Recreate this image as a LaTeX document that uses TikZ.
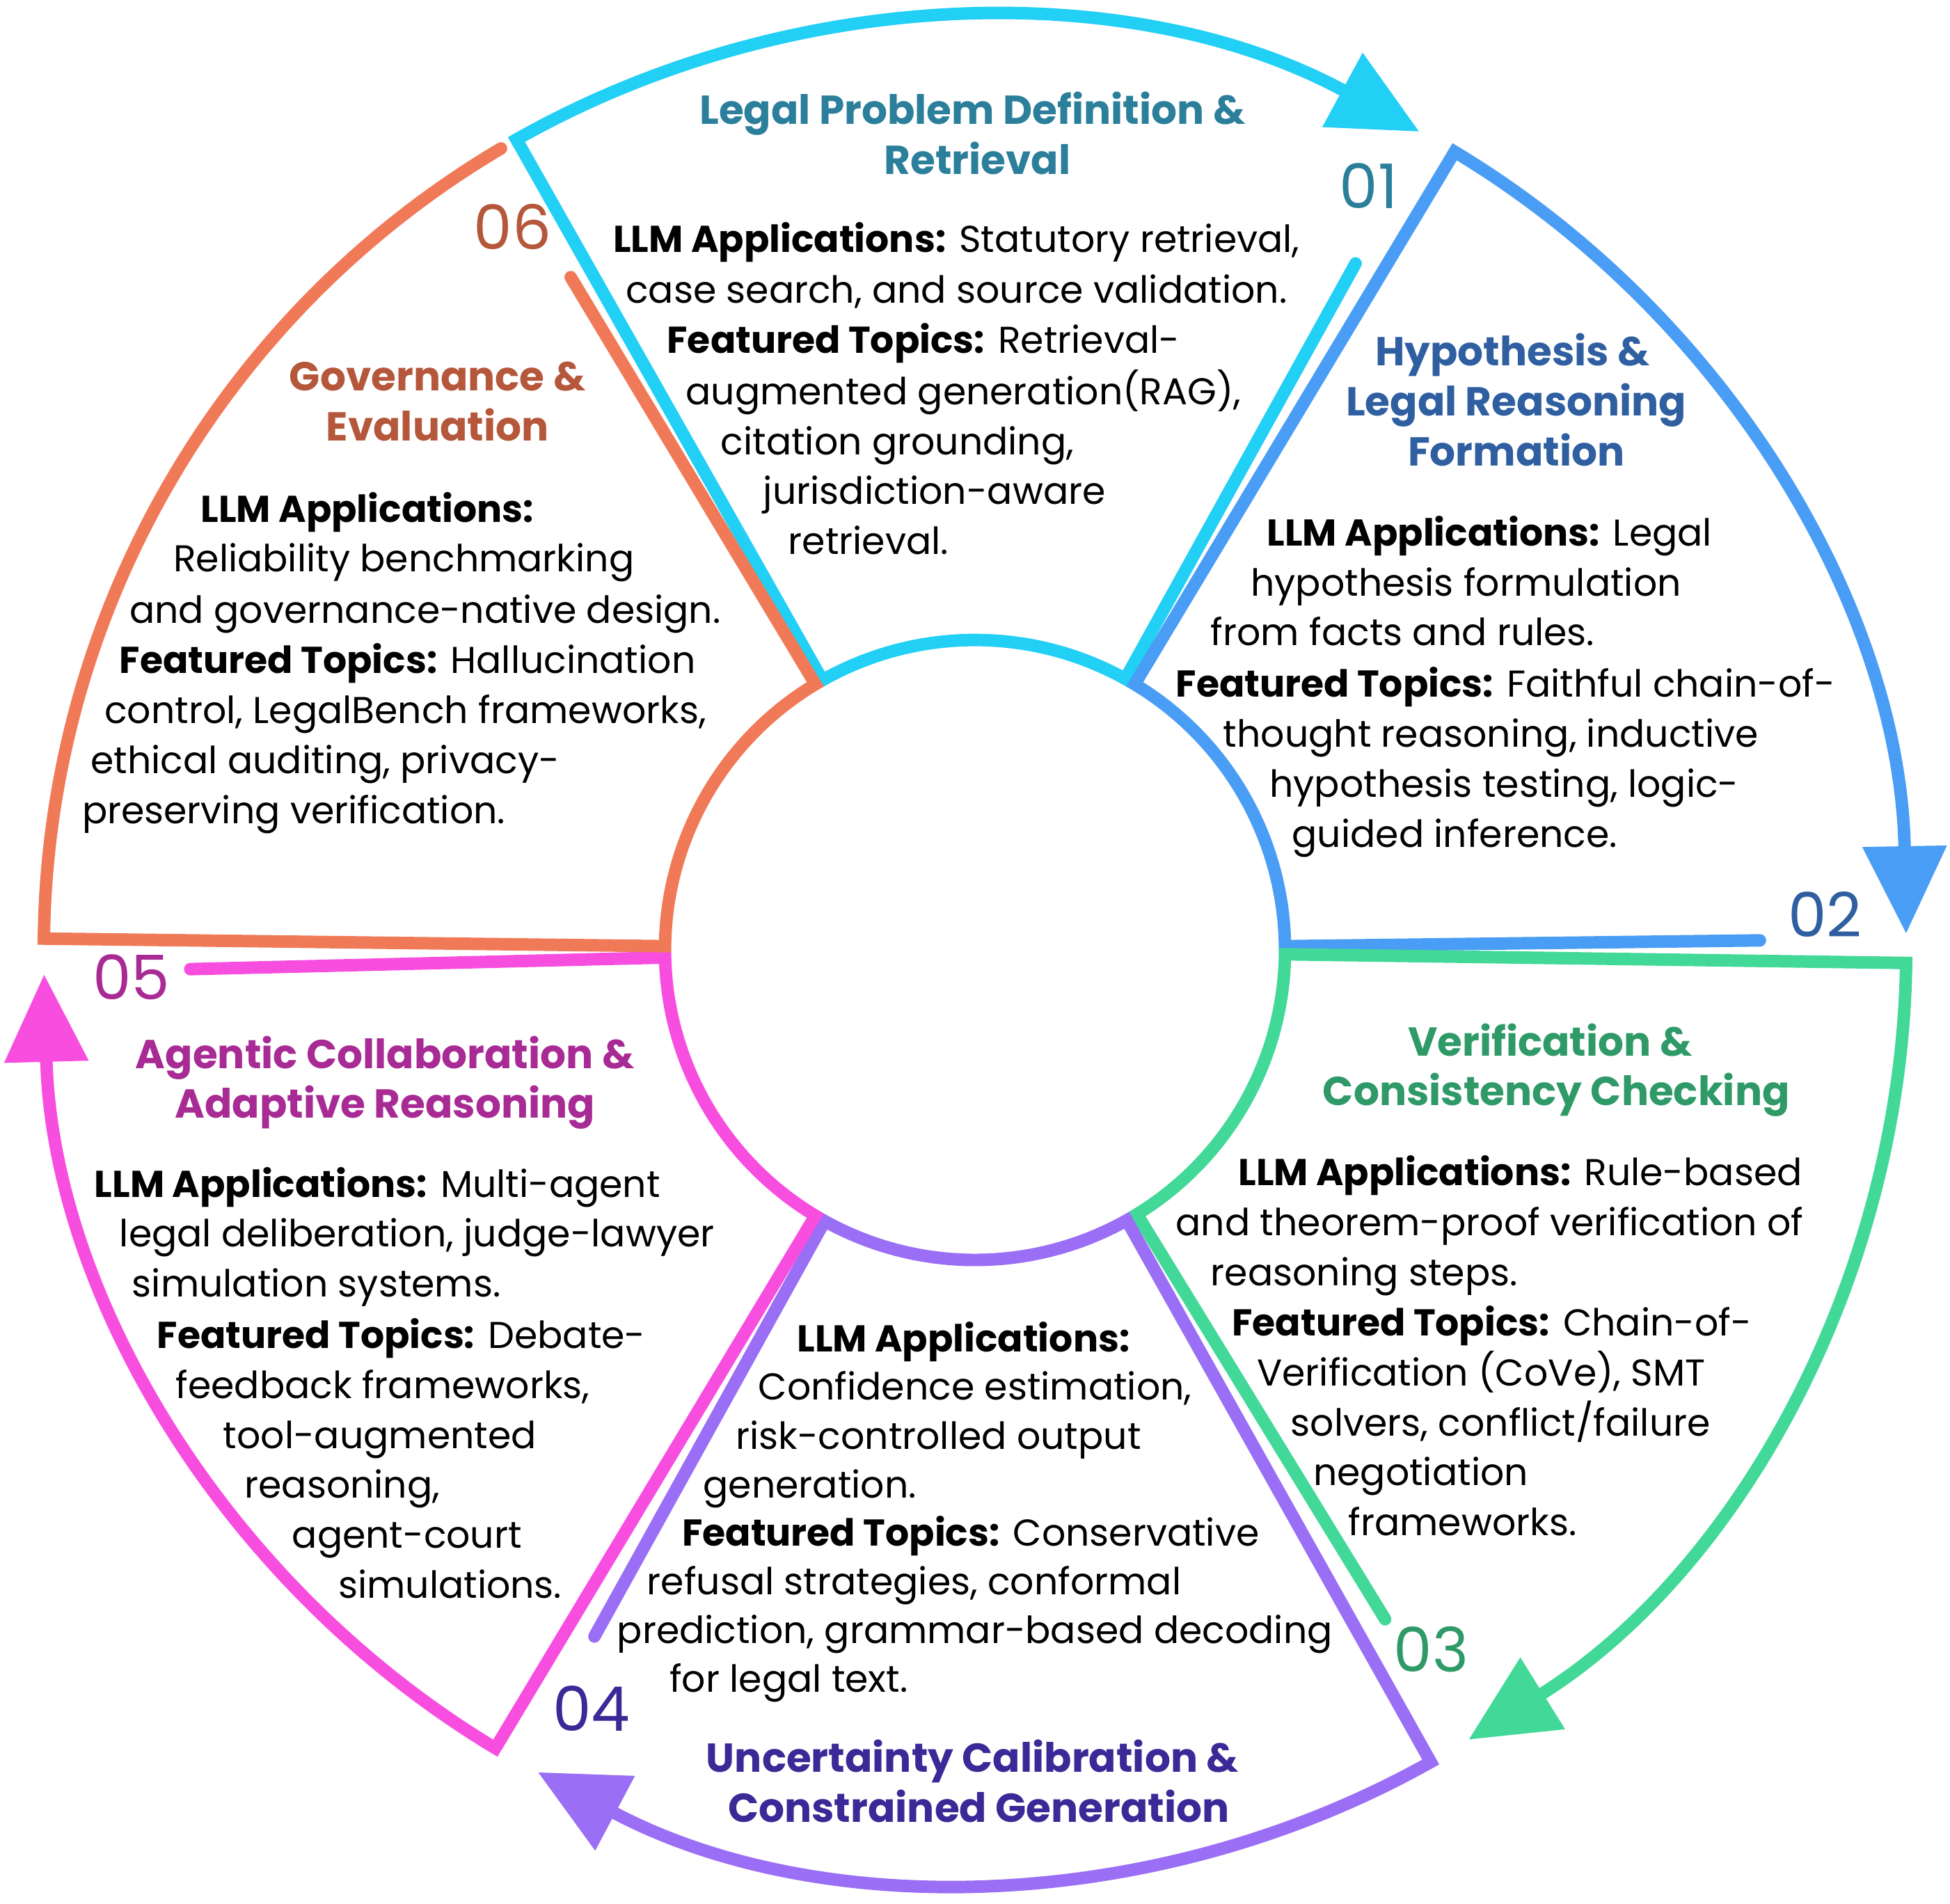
\documentclass[tikz,border=0pt]{standalone}
\usepackage{fontspec}
\setmainfont{Poppins}
\usetikzlibrary{arrows.meta,calc}
\definecolor{cC}{HTML}{22CFF5}\definecolor{cB}{HTML}{4A9DF5}\definecolor{cG}{HTML}{42D898}
\definecolor{cP}{HTML}{9A6EF5}\definecolor{cK}{HTML}{F84EE0}\definecolor{cO}{HTML}{F07A58}
\definecolor{tC}{HTML}{2B7F9B}\definecolor{tB}{HTML}{2F5FA0}\definecolor{tG}{HTML}{2F9A68}
\definecolor{tP}{HTML}{3C2896}\definecolor{tK}{HTML}{A82A94}\definecolor{tO}{HTML}{B5573A}
\begin{document}
\begin{tikzpicture}[x=0.1mm,y=0.1mm,
  ring/.style={line width=1mm,line cap=round,line join=miter},
  arr/.style={-{Triangle[length=7mm,width=6.5mm]}},
  body/.style={font=\fontsize{8.5}{9}\selectfont,inner sep=0pt,anchor=mid west},
  ttl/.style={font=\fontsize{9.2}{9}\selectfont\bfseries,inner sep=0pt,anchor=mid},
  num/.style={font=\fontsize{14}{14}\selectfont,inner sep=0pt,anchor=mid}]
\useasboundingbox (0,0) rectangle (1560,-1523);
\coordinate (C) at (780,-760);
\newcommand\sector[6]{%
 \draw[ring,#1,#6] ($(C)+(#4:62.8mm)$) -- ($(C)+(#4:24.8mm)$)
   arc[start angle=#4,end angle=#2,radius=24.8mm]
   -- ($(C)+(#2:74.5mm)$) arc[start angle=#2,end angle=#3,radius=74.5mm];}
\sector{cC}{119.5}{61.5}{61}{}{arr}
\sector{cB}{59}{1}{0.7}{}{arr}
\sector{cG}{-0.8}{-58}{-58.5}{}{arr}
\sector{cP}{-60.7}{-118}{-119}{}{arr}
\sector{cK}{-121}{-178.5}{-178.6}{}{arr}
\sector{cO}{179.3}{120.6}{121}{}{}
% numbers
\node[num,tC] (n1) at (1095,-157) {01};
\node[num,tB] (n2) at (1460,-740) {02};
\node[num,tG] (n3) at (1145,-1328) {03};
\node[num,tP] (n4) at (473,-1375) {04};
\node[num,tK] (n5) at (105,-790) {05};
\node[num,tO] (n6) at (410,-190) {06};
% block 1
\node[ttl,tC] (a0) at (778,-90) {Legal Problem Definition \&};
\node[ttl,tC] (a00) at (782,-130) {Retrieval};
\node[body] (a1) at (490,-192) {\textbf{LLM Applications:} Statutory retrieval,};
\node[body] (a2) at (500,-233) {case search, and source validation.};
\node[body] (a3) at (533,-273) {\textbf{Featured Topics:} Retrieval-};
\node[body] (a4) at (548,-314) {augmented generation(RAG),};
\node[body] (a5) at (576,-354) {citation grounding,};
\node[body] (a6) at (610,-394) {jurisdiction-aware};
\node[body] (a7) at (630,-434) {retrieval.};
% block 2
\node[ttl,tB] (b0) at (1210,-283) {Hypothesis \&};
\node[ttl,tB] (b00) at (1213,-323) {Legal Reasoning};
\node[ttl,tB] (b000) at (1213,-363) {Formation};
\node[body] (b1) at (1013,-427) {\textbf{LLM Applications:} Legal};
\node[body] (b2) at (1000,-467) {hypothesis formulation};
\node[body] (b3) at (968,-507) {from facts and rules.};
\node[body] (b4) at (940,-548) {\textbf{Featured Topics:} Faithful chain-of-};
\node[body] (b5) at (978,-588) {thought reasoning, inductive};
\node[body] (b6) at (1015,-628) {hypothesis testing, logic-};
\node[body] (b7) at (1033,-668) {guided inference.};
% block 3
\node[ttl,tG] (c0) at (1240,-835) {Verification \&};
\node[ttl,tG] (c00) at (1245,-875) {Consistency Checking};
\node[body] (c1) at (990,-939) {\textbf{LLM Applications:} Rule-based};
\node[body] (c2) at (940,-979) {and theorem-proof verification of};
\node[body] (c3) at (968,-1019) {reasoning steps.};
\node[body] (c4) at (985,-1059) {\textbf{Featured Topics:} Chain-of-};
\node[body] (c5) at (1005,-1099) {Verification (CoVe), SMT};
\node[body] (c6) at (1032,-1139) {solvers, conflict/failure};
\node[body] (c7) at (1050,-1179) {negotiation};
\node[body] (c8) at (1078,-1219) {frameworks.};
% block 4
\node[ttl,tP] (d0) at (778,-1408) {Uncertainty Calibration \&};
\node[ttl,tP] (d00) at (783,-1448) {Constrained Generation};
\node[body] (d1) at (637,-1072) {\textbf{LLM Applications:}};
\node[body] (d2) at (606,-1110) {Confidence estimation,};
\node[body] (d3) at (588,-1150) {risk-controlled output};
\node[body] (d4) at (562,-1189) {generation.};
\node[body] (d5) at (545,-1227) {\textbf{Featured Topics:} Conservative};
\node[body] (d6) at (517,-1266) {refusal strategies, conformal};
\node[body] (d7) at (493,-1305) {prediction, grammar-based decoding};
\node[body] (d8) at (535,-1344) {for legal text.};
% block 5
\node[ttl,tK] (e0) at (308,-845) {Agentic Collaboration \&};
\node[ttl,tK] (e00) at (308,-885) {Adaptive Reasoning};
\node[body] (e1) at (75,-948) {\textbf{LLM Applications:} Multi-agent};
\node[body] (e2) at (95,-988) {legal deliberation, judge-lawyer};
\node[body] (e3) at (105,-1028) {simulation systems.};
\node[body] (e4) at (125,-1069) {\textbf{Featured Topics:} Debate-};
\node[body] (e5) at (140,-1109) {feedback frameworks,};
\node[body] (e6) at (178,-1149) {tool-augmented};
\node[body] (e7) at (195,-1189) {reasoning,};
\node[body] (e8) at (233,-1229) {agent-court};
\node[body] (e9) at (270,-1269) {simulations.};
% block 6
\node[ttl,tO] (f0) at (350,-303) {Governance \&};
\node[ttl,tO] (f00) at (350,-343) {Evaluation};
\node[body] (f1) at (160,-408) {\textbf{LLM Applications:}};
\node[body] (f2) at (138,-448) {Reliability benchmarking};
\node[body] (f3) at (103,-489) {and governance-native design.};
\node[body] (f4) at (95,-529) {\textbf{Featured Topics:} Hallucination};
\node[body] (f5) at (83,-569) {control, LegalBench frameworks,};
\node[body] (f6) at (72,-609) {ethical auditing, privacy-};
\node[body] (f7) at (65,-649) {preserving verification.};
\end{tikzpicture}
\end{document}
